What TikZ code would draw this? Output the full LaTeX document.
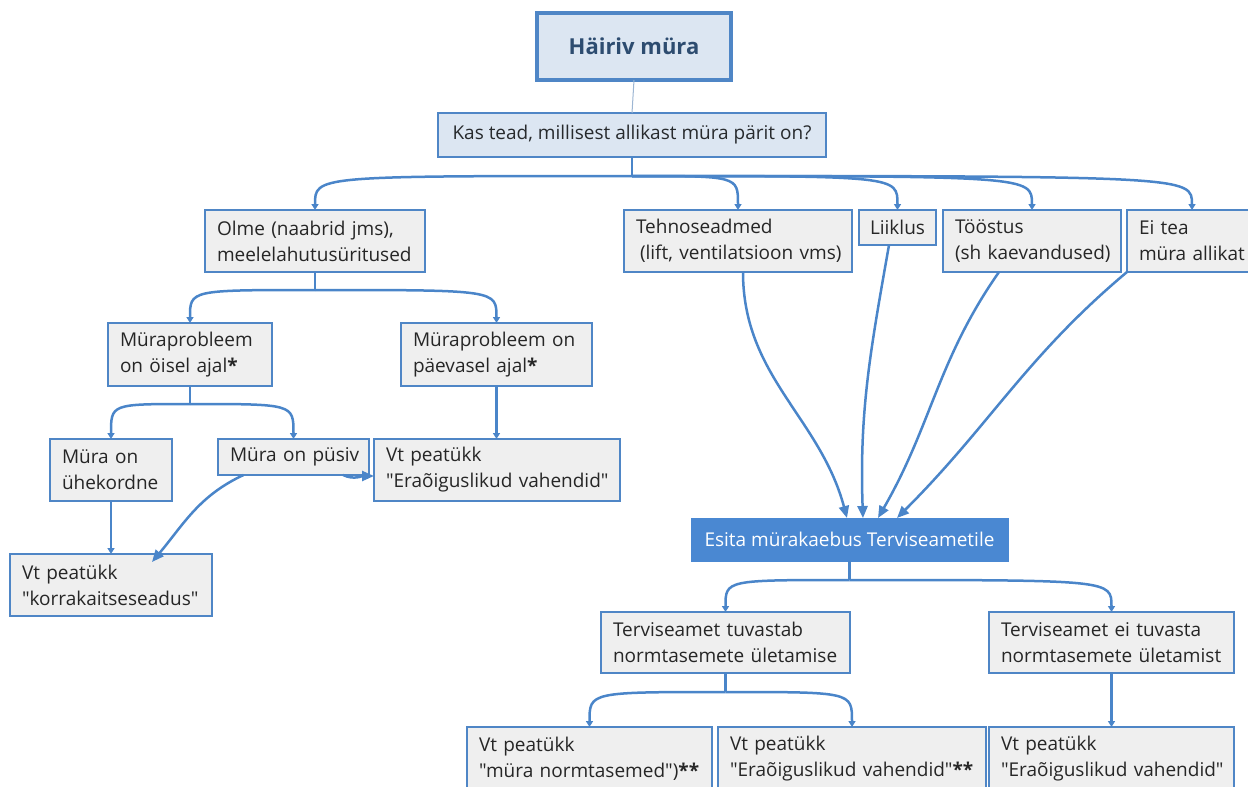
\documentclass[tikz,border=0pt]{standalone}
\usepackage{fontspec}
\setmainfont{Open Sans}[Ligatures=TeXOff]
\usetikzlibrary{arrows.meta}
\definecolor{bord}{HTML}{4F86C6}
\definecolor{lc}{HTML}{4A85C9}
\definecolor{boxg}{HTML}{EFEFEF}
\definecolor{tfill}{HTML}{DCE6F2}
\definecolor{ttxt}{HTML}{2D4C70}
\definecolor{txt}{HTML}{262626}
\definecolor{efill}{HTML}{4A88D2}
\definecolor{thinl}{HTML}{9DB6D3}
\newcommand\dq{\symbol{34}}
\begin{document}
\begin{tikzpicture}[x=1pt,y=-1pt,
  box/.style={draw=bord, line width=2.6pt, fill=boxg, anchor=north west, outer sep=0pt,
    inner xsep=12pt, inner ysep=0pt, align=left, text=txt, font=\fontsize{19}{26}\selectfont},
  conn/.style={draw=lc, line width=2.5pt},
  arr/.style={conn, -{Triangle[length=6pt,width=7pt]}},
  bigarr/.style={conn, -{Triangle[length=12pt,width=10pt]}}]
\useasboundingbox (0,0) rectangle (1248,787);

% nodes
\node[box, fill=tfill, line width=4.5pt, minimum width=194pt, minimum height=67pt, align=center,
  text=ttxt, font=\bfseries\fontsize{22}{26}\selectfont] (title) at (537,13) {Häiriv müra};
\node[box, fill=tfill, line width=2pt, minimum width=388pt, minimum height=44pt, align=center,
  text=txt!90!ttxt, font=\fontsize{19}{22}\selectfont] (quest) at (438,113) {Kas tead, millisest allikast müra pärit on?};

\node[box, text width=196pt, minimum height=62pt] (olme) at (205,210) {Olme (naabrid jms),\\\mbox{meelelahutusüritused}};
\node[box, text width=204pt, minimum height=62pt] (tehno) at (624,210) {Tehnoseadmed\\\mbox{\hspace*{4pt}(lift, ventilatsioon vms)}};
\node[box, minimum width=77pt, minimum height=35pt, inner xsep=4pt, align=center] (liik) at (859,210) {Liiklus};
\node[box, text width=154pt, minimum height=62pt] (toos) at (943,210) {Tööstus\\\mbox{(sh kaevandused)}};
\node[box, text width=106pt, minimum height=62pt] (eitea) at (1127,210) {Ei tea\\\mbox{müra allikat}};

\node[box, text width=140pt, minimum height=63pt] (oisel) at (108,323) {Müraprobleem\\on öisel ajal\textbf{*}};
\node[box, text width=167pt, minimum height=63pt] (paev) at (401,323) {\mbox{Müraprobleem on}\\päevasel ajal\textbf{*}};

\node[box, text width=98pt, minimum height=62pt] (uhek) at (50,439) {Müra on\\ühekordne};
\node[box, text width=127pt, minimum height=36pt] (pusiv) at (218,439) {\mbox{Müra on püsiv}};
\node[box, text width=222pt, minimum height=62pt] (era1) at (374,439) {Vt peatükk\\\mbox{"Eraõiguslikud vahendid"}};
\node[box, text width=178pt, minimum height=62pt] (korr) at (10,554) {Vt peatükk\\\mbox{"korrakaitseseadus"}};

\node[box, draw=efill, fill=efill, line width=1pt, minimum width=317pt, minimum height=43pt, align=center,
  text=white] (esita) at (691,518) {Esita mürakaebus Terviseametile};

\node[box, text width=225pt, minimum height=61pt] (tuv) at (601,612) {Terviseamet tuvastab\\\mbox{normtasemete ületamise}};
\node[box, text width=221pt, minimum height=61pt] (eituv) at (989,612) {Terviseamet ei tuvasta\\\mbox{normtasemete ületamist}};

\node[box, text width=221pt, minimum height=64pt] (mnorm) at (467,727) {Vt peatükk\\\mbox{"müra normtasemed")\textbf{**}}};
\node[box, text width=244pt, minimum height=64pt] (era2) at (718,727) {Vt peatükk\\\mbox{"Eraõiguslikud vahendid"\textbf{**}}};
\node[box, text width=221pt, minimum height=64pt] (era3) at (989,727) {Vt peatükk\\\mbox{"Eraõiguslikud vahendid"}};

% connectors
\draw[draw=thinl, line width=1pt] (title.south) -- (quest.north);

\coordinate (f0) at ([yshift=-19pt]quest.south);
\draw[conn] (quest.south) -- (f0);
\foreach \c in {olme,tehno,liik,toos,eitea}
  \draw[arr] (f0) .. controls (f0 -| \c.north) .. (\c.north);

\coordinate (f1) at ([yshift=-18pt]olme.south);
\draw[conn] (olme.south) -- (f1);
\foreach \c in {oisel,paev}
  \draw[arr] (f1) .. controls (f1 -| \c.north) .. (\c.north);

\coordinate (f2) at ([yshift=-18pt]oisel.south);
\draw[conn] (oisel.south) -- (f2);
\foreach \c in {uhek,pusiv}
  \draw[arr] (f2) .. controls (f2 -| \c.north) .. (\c.north);

\draw[arr] (paev.south) -- (paev.south |- era1.north);
\draw[arr] (uhek.south) -- (uhek.south |- korr.north);

\draw[bigarr] ([xshift=-50pt]pusiv.south) to[out=-155,in=50] ([xshift=41pt,yshift=-8pt]korr.north);
\draw[bigarr] ([xshift=-26pt]pusiv.south east) to[out=-25,in=180] ([yshift=-6pt]era1.west);

\draw[bigarr] ([xshift=5pt]tehno.south) to[out=-90,in=105] ([xshift=-2.5pt]esita.north);
\draw[bigarr] ([xshift=-8.5pt]liik.south) to[out=-100,in=92] ([xshift=13.5pt]esita.north);
\draw[bigarr] ([xshift=-33pt]toos.south) to[out=-125,in=60] ([xshift=28.5pt]esita.north);
\draw[bigarr] (eitea.south west) to[out=-140,in=45] ([xshift=47.5pt]esita.north);

\coordinate (f3) at ([yshift=-19pt]esita.south);
\draw[conn] (esita.south) -- (f3);
\foreach \c in {tuv,eituv}
  \draw[arr] (f3) .. controls (f3 -| \c.north) .. (\c.north);

\coordinate (f4) at ([yshift=-19pt]tuv.south);
\draw[conn] (tuv.south) -- (f4);
\foreach \c in {mnorm,era2}
  \draw[arr] (f4) .. controls (f4 -| \c.north) .. (\c.north);

\draw[arr] (eituv.south) -- (eituv.south |- era3.north);
\end{tikzpicture}
\end{document}
